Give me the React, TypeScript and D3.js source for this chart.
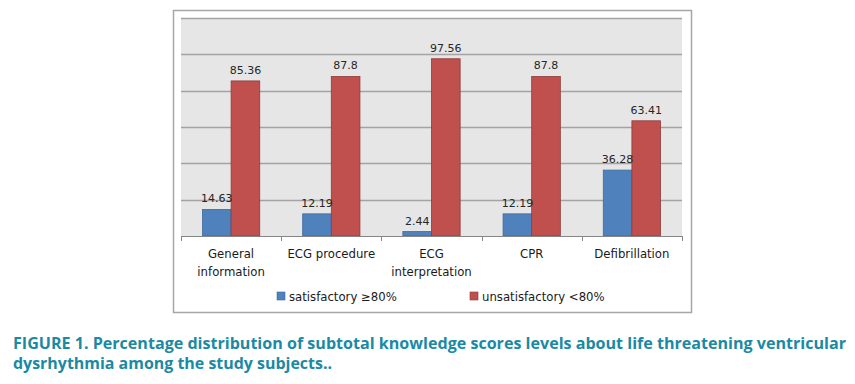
import * as d3 from 'd3';
import { useEffect, useRef } from 'react';

const categories = ['General information', 'ECG procedure', 'ECG interpretation', 'CPR', 'Defibrillation'];
const categoryLines = [['General', 'information'], ['ECG procedure'], ['ECG', 'interpretation'], ['CPR'], ['Defibrillation']];
const seriesNames = ['satisfactory ≥80%', 'unsatisfactory <80%'];
const satisfactory = [14.63, 12.19, 2.44, 12.19, 36.28];
const unsatisfactory = [85.36, 87.8, 97.56, 87.8, 63.41];
const yTicks = [0, 20, 40, 60, 80, 100, 120];
const captionLines = [
  'FIGURE 1. Percentage distribution of subtotal knowledge scores levels about life threatening ventricular',
  'dysrhythmia among the study subjects..'
];

const W = 855;
const H = 384;
const fills = ['#4f81bd', '#c0504d'];
const strokes = ['#3f6a9c', '#8e3a38'];
const font = '"DejaVu Sans", Verdana, sans-serif';

export default function App() {
  const svgRef = useRef<SVGSVGElement | null>(null);

  useEffect(() => {
    const svg = d3.select(svgRef.current);
    svg.selectAll('*').remove();

    // chart frame
    svg.append('rect').attr('x', 173.5).attr('y', 10.5).attr('width', 518).attr('height', 302).attr('fill', '#fff').attr('stroke', '#a6a6a6').attr('stroke-width', 1.5);

    const plot = { left: 181, right: 682, top: 18, bottom: 236 };

    const x0 = d3.scaleBand().domain(categories).range([plot.left, plot.right]).paddingInner(0).paddingOuter(0);
    // Excel gap width 150%: each bar = band / 3.5
    const groupW = (x0.bandwidth() / 3.5) * 2;
    const x1 = d3.scaleBand().domain(seriesNames).range([0, groupW]);
    const y = d3.scaleLinear().domain([0, 120]).range([plot.bottom, plot.top]);

    svg.append('rect').attr('x', plot.left).attr('y', plot.top).attr('width', plot.right - plot.left).attr('height', plot.bottom - plot.top).attr('fill', '#e6e6e6');

    // gridlines
    svg
      .append('g')
      .selectAll('line')
      .data(yTicks.filter(t => t > 0))
      .join('line')
      .attr('x1', plot.left)
      .attr('x2', plot.right)
      .attr('y1', d => Math.round(y(d)) + 0.5)
      .attr('y2', d => Math.round(y(d)) + 0.5)
      .attr('stroke', '#a3a3a3')
      .attr('stroke-width', 1.3);

    // bars
    const values = [satisfactory, unsatisfactory];
    const groups = svg
      .append('g')
      .selectAll('g')
      .data(categories)
      .join('g')
      .attr('transform', d => `translate(${(x0(d) ?? 0) + (x0.bandwidth() - groupW) / 2},0)`);

    groups
      .selectAll('rect')
      .data((d, i) => seriesNames.map((s, j) => ({ s, j, v: values[j][i] })))
      .join('rect')
      .attr('x', d => x1(d.s) ?? 0)
      .attr('y', d => y(d.v))
      .attr('width', x1.bandwidth())
      .attr('height', d => plot.bottom - y(d.v))
      .attr('fill', d => fills[d.j])
      .attr('stroke', d => strokes[d.j])
      .attr('stroke-width', 0.8);

    groups
      .selectAll('text')
      .data((d, i) => seriesNames.map((s, j) => ({ s, j, v: values[j][i] })))
      .join('text')
      .attr('x', d => (x1(d.s) ?? 0) + x1.bandwidth() / 2)
      .attr('y', d => y(d.v) - 7)
      .attr('text-anchor', 'middle')
      .attr('font-family', font)
      .attr('font-size', 11)
      .attr('fill', '#262626')
      .text(d => String(d.v));

    // x axis
    const axis = svg.append('g');
    axis.append('line').attr('x1', plot.left).attr('x2', plot.right).attr('y1', plot.bottom + 0.5).attr('y2', plot.bottom + 0.5).attr('stroke', '#868686').attr('stroke-width', 1.2);
    const ticks = [...categories.map(c => x0(c) ?? 0), plot.right];
    axis
      .selectAll('line.tick')
      .data(ticks)
      .join('line')
      .attr('class', 'tick')
      .attr('x1', d => Math.round(d) + 0.5)
      .attr('x2', d => Math.round(d) + 0.5)
      .attr('y1', plot.bottom)
      .attr('y2', plot.bottom + 5)
      .attr('stroke', '#868686');

    axis
      .selectAll('text')
      .data(categories)
      .join('text')
      .attr('x', d => (x0(d) ?? 0) + x0.bandwidth() / 2)
      .attr('y', 258)
      .attr('text-anchor', 'middle')
      .attr('font-family', font)
      .attr('font-size', 11.7)
      .attr('fill', '#1a1a1a')
      .each(function (d, i) {
        const t = d3.select(this);
        categoryLines[i].forEach((line, k) => {
          t.append('tspan')
            .attr('x', (x0(d) ?? 0) + x0.bandwidth() / 2)
            .attr('dy', k === 0 ? 0 : 18)
            .text(line);
        });
      });

    // legend
    const legendX = [277, 470];
    const legend = svg
      .append('g')
      .selectAll('g')
      .data(seriesNames)
      .join('g')
      .attr('transform', (d, i) => `translate(${legendX[i]},292)`);
    legend.append('rect').attr('width', 8).attr('height', 8).attr('fill', (d, i) => fills[i]).attr('stroke', (d, i) => strokes[i]).attr('stroke-width', 0.6);
    legend
      .append('text')
      .attr('x', 12)
      .attr('y', 8.5)
      .attr('font-family', font)
      .attr('font-size', 11.7)
      .attr('fill', '#1a1a1a')
      .text(d => d);

    // caption
    const captionW = [833, 319];
    svg
      .append('g')
      .selectAll('text')
      .data(captionLines)
      .join('text')
      .attr('x', 13)
      .attr('y', (d, i) => 349 + i * 19.5)
      .attr('font-family', '"Open Sans", "Noto Sans", sans-serif')
      .attr('font-weight', 700)
      .attr('font-size', 16)
      .attr('fill', '#1a8aa4')
      .attr('textLength', (d, i) => captionW[i])
      .attr('lengthAdjust', 'spacingAndGlyphs')
      .text(d => d);
  }, []);

  return (
    <div style={{ position: 'absolute', left: 0, top: 0, width: W, height: H, background: '#fff' }}>
      <svg ref={svgRef} width={W} height={H} style={{ display: 'block' }} />
    </div>
  );
}
